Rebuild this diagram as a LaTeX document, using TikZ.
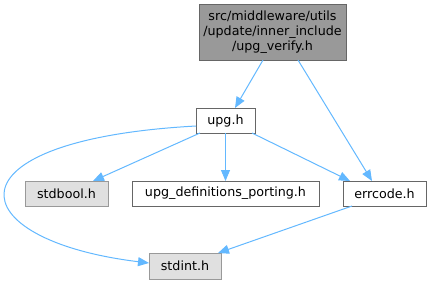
\documentclass[tikz,border=0pt]{standalone}
\usepackage{fontspec}
\setmainfont{DejaVu Sans}
\usetikzlibrary{arrows.meta}
\definecolor{edgeblue}{HTML}{63B8FF}
\definecolor{darkfill}{HTML}{999999}
\definecolor{darkline}{HTML}{666666}
\definecolor{lightfill}{HTML}{E0E0E0}
\definecolor{lightline}{HTML}{999999}
\begin{document}
\begin{tikzpicture}[x=1pt,y=-1pt,
  every node/.style={font=\fontsize{12.7}{15}\selectfont, inner sep=0pt, outer sep=0pt, line width=1pt, align=center},
  mainbox/.style={draw=darkline, fill=darkfill},
  plainbox/.style={draw=darkline, fill=white},
  sysbox/.style={draw=lightline, fill=lightfill},
  dep/.style={draw=edgeblue, line width=1pt, -{Triangle[length=11pt,width=9pt]}}]
\useasboundingbox (0,0) rectangle (431,285);
\node[mainbox, minimum width=147pt, minimum height=56pt] (top) at (272.5,32)
  {src/middleware/utils\\/update/inner\_include\\/upg\_verify.h};
\node[plainbox, minimum width=59pt, minimum height=25pt] (upg) at (225.5,120.5) {upg.h};
\node[sysbox, minimum width=83pt, minimum height=25pt] (stdbool) at (66.5,193.5) {stdbool.h};
\node[plainbox, minimum width=187pt, minimum height=25pt] (def) at (225.5,193.5) {upg\_definitions\_porting.h};
\node[plainbox, minimum width=83pt, minimum height=25pt] (err) at (384.5,193.5) {errcode.h};
\node[sysbox, minimum width=72pt, minimum height=26pt] (stdint) at (185,266) {stdint.h};
\draw[dep] ([xshift=-9.5pt]top.south) -- ([xshift=9.5pt]upg.north);
\draw[dep] ([xshift=25.5pt]top.south) -- ([xshift=-12.5pt]err.north);
\draw[dep] ([xshift=-25.5pt]upg.south) -- ([xshift=26.5pt]stdbool.north);
\draw[dep] (upg.south) -- (def.north);
\draw[dep] ([xshift=26.5pt]upg.south) -- ([xshift=-34.5pt]err.north);
\draw[dep] ([yshift=-5.5pt]upg.west) .. controls (-60,140) and (-40,240) .. ([yshift=3pt]stdint.west);
\draw[dep] ([xshift=-32.5pt]err.south) -- ([xshift=-3pt]stdint.north east);
\end{tikzpicture}
\end{document}
